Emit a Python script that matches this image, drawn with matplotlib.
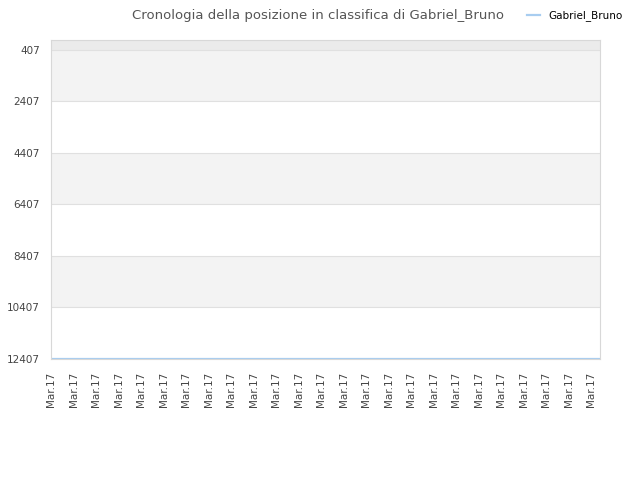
import numpy as np
import matplotlib.pyplot as plt

labels = ["Mar.17"] * 25
ranks = [12400] * 26
ticks = [407, 2407, 4407, 6407, 8407, 10407, 12407]

fig = plt.figure(figsize=(6.4, 4.8), dpi=100)
ax = fig.add_axes([51 / 640, 1 - 359 / 480, 549 / 640, 319 / 480])

ax.set_xlim(-0.02, 24.4)
ax.set_ylim(12407, 20)

# alternating bands
ax.axhspan(20, 407, color="#ebebeb", lw=0)
for i in range(len(ticks) - 1):
    if i % 2 == 0:
        ax.axhspan(ticks[i], ticks[i + 1], color="#f3f3f3", lw=0)
for t in ticks:
    ax.axhline(t, color="#e0e0e0", lw=0.8)

ax.plot(np.arange(len(ranks)) + 0.08, ranks, color="#a8cdf0", lw=1.6,
        label="Gabriel_Bruno")

ax.set_yticks(ticks)
ax.set_yticklabels([str(t) for t in ticks])
ax.set_xticks(np.arange(len(labels)))
ax.set_xticklabels(labels, rotation=90)
ax.tick_params(axis="both", length=0, labelsize=7.5, colors="#444444")
ax.tick_params(axis="y", pad=8)
ax.tick_params(axis="x", pad=9)
for s in ax.spines.values():
    s.set_color("#d8d8d8")

fig.text(0.497, 0.967, "Cronologia della posizione in classifica di Gabriel_Bruno",
         ha="center", va="center", fontsize=9.5, color="#555555")
fig.legend(loc="center", bbox_to_anchor=(0.898, 0.967), frameon=False,
           fontsize=7.5, handlelength=1.2)

fig.savefig("out.png")
